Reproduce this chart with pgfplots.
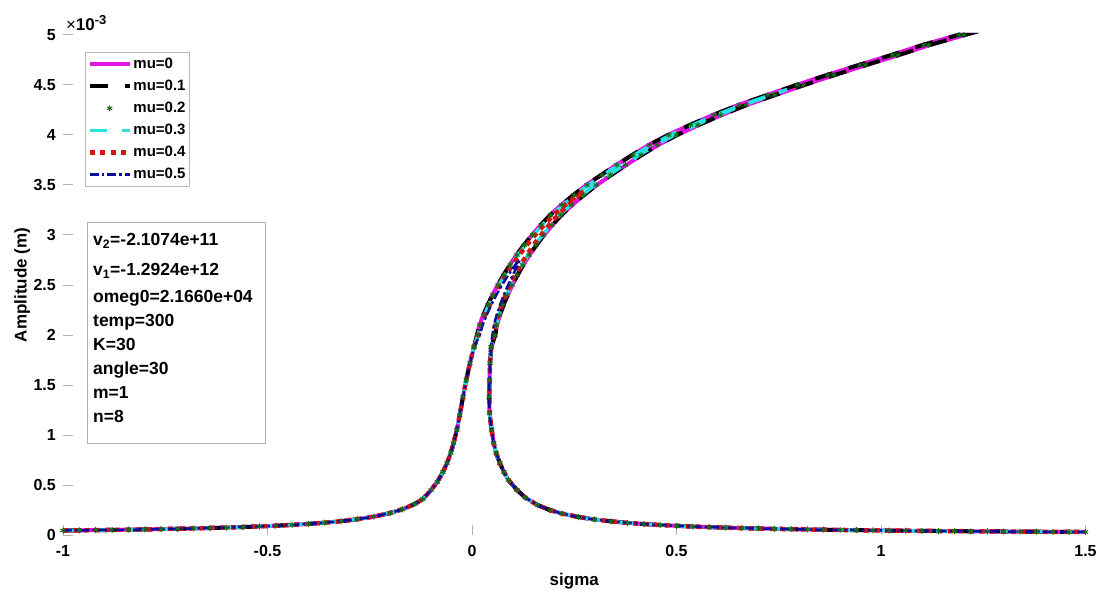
\documentclass[border=0pt]{standalone}
\usepackage{fontspec}
\setmainfont{Liberation Sans}
\setsansfont{Liberation Sans}
\usepackage{pgfplots}
\pgfplotsset{compat=1.18}
\usepackage{pgfplotstable}

\definecolor{cMag}{RGB}{225,20,225}
\definecolor{cGrn}{RGB}{20,110,20}
\definecolor{cCyn}{RGB}{40,225,225}
\definecolor{cRed}{RGB}{215,20,20}
\definecolor{cBlu}{RGB}{10,10,160}

% common lower-left branch
\pgfplotstableread{
x y
-1.00 0.0448
-0.96 0.0466
-0.92 0.0486
-0.88 0.0508
-0.84 0.0533
-0.80 0.0559
-0.76 0.0588
-0.72 0.0621
-0.68 0.0657
-0.64 0.0698
-0.60 0.0744
-0.56 0.0796
-0.52 0.0857
-0.48 0.0928
-0.44 0.1011
-0.40 0.1111
-0.36 0.1233
-0.32 0.1385
-0.28 0.1579
-0.24 0.1837
-0.20 0.2195
-0.17 0.2571
-0.14 0.3103
-0.12 0.3600
-0.100 0.450
-0.085 0.530
-0.071 0.630
-0.061 0.720
-0.052 0.820
-0.045 0.920
-0.037 1.050
-0.030 1.200
-0.022 1.380
-0.014 1.550
-0.005 1.720
0.005 1.880
}\tabL

% common lower-right branch
\pgfplotstableread{
x y
0.047 1.880
0.044 1.720
0.043 1.550
0.042 1.380
0.043 1.220
0.048 1.050
0.053 0.920
0.059 0.820
0.068 0.720
0.078 0.630
0.089 0.550
0.110 0.450
0.130 0.375
0.160 0.300
0.190 0.250
0.220 0.2143
0.26 0.1800
0.30 0.1552
0.34 0.1364
0.38 0.1216
0.42 0.1098
0.46 0.1000
0.50 0.0918
0.54 0.0849
0.58 0.0789
0.62 0.0738
0.66 0.0692
0.70 0.0652
0.74 0.0616
0.78 0.0584
0.82 0.0556
0.86 0.0529
0.90 0.0506
0.94 0.0484
0.98 0.0464
1.02 0.0446
1.06 0.0429
1.10 0.0413
1.14 0.0398
1.18 0.0385
1.22 0.0372
1.26 0.0360
1.30 0.0349
1.34 0.0338
1.38 0.0328
1.42 0.0319
1.46 0.0310
1.50 0.0302
}\tabR

% upper parts, mu = 0
\pgfplotstableread{
x y
0.005 1.88
0.0120 2.0
0.0183 2.1
0.0276 2.2
0.0381 2.3
0.0498 2.4
0.0628 2.5
0.0770 2.6
0.0922 2.7
0.1086 2.8
0.1268 2.9
0.1465 3.0
0.1679 3.1
0.1909 3.2
0.2179 3.3
0.2477 3.4
0.2795 3.5
0.3153 3.6
0.3526 3.7
0.3916 3.8
0.4322 3.9
0.4791 4.0
0.5324 4.1
0.5891 4.2
0.6510 4.3
0.7213 4.4
0.7928 4.5
0.8676 4.6
0.9453 4.7
1.0253 4.8
1.1013 4.9
1.1874 5.0
1.2054 5.0
1.1197 4.9
1.0441 4.8
0.9645 4.7
0.8872 4.6
0.8128 4.5
0.7417 4.4
0.6720 4.3
0.6105 4.2
0.5544 4.1
0.5017 4.0
0.4552 3.9
0.4152 3.8
0.3770 3.7
0.3403 3.6
0.3053 3.5
0.2741 3.4
0.2451 3.3
0.2191 3.2
0.1969 3.1
0.1765 3.0
0.1578 2.9
0.1408 2.8
0.1256 2.7
0.1116 2.6
0.0988 2.5
0.0874 2.4
0.0773 2.3
0.0686 2.2
0.0611 2.1
0.0570 2.0
0.047 1.88
}\tabTa

% mu = 0.1
\pgfplotstableread{
x y
0.005 1.88
0.0122 2.0
0.0186 2.1
0.0279 2.2
0.0384 2.3
0.0501 2.4
0.0631 2.5
0.0773 2.6
0.0925 2.7
0.1090 2.8
0.1272 2.9
0.1469 3.0
0.1683 3.1
0.1913 3.2
0.2183 3.3
0.2481 3.4
0.2799 3.5
0.3157 3.6
0.3531 3.7
0.3921 3.8
0.4327 3.9
0.4796 4.0
0.5329 4.1
0.5896 4.2
0.6515 4.3
0.7219 4.4
0.7934 4.5
0.8682 4.6
0.9459 4.7
1.0259 4.8
1.1019 4.9
1.1880 5.0
1.2048 5.0
1.1191 4.9
1.0435 4.8
0.9639 4.7
0.8866 4.6
0.8122 4.5
0.7411 4.4
0.6715 4.3
0.6100 4.2
0.5539 4.1
0.5012 4.0
0.4547 3.9
0.4147 3.8
0.3765 3.7
0.3399 3.6
0.3049 3.5
0.2737 3.4
0.2447 3.3
0.2187 3.2
0.1965 3.1
0.1761 3.0
0.1574 2.9
0.1404 2.8
0.1253 2.7
0.1113 2.6
0.0985 2.5
0.0871 2.4
0.0770 2.3
0.0683 2.2
0.0608 2.1
0.0568 2.0
0.047 1.88
}\tabTb

% mu = 0.2
\pgfplotstableread{
x y
0.005 1.88
0.0130 2.0
0.0193 2.1
0.0287 2.2
0.0393 2.3
0.0510 2.4
0.0640 2.5
0.0783 2.6
0.0936 2.7
0.1100 2.8
0.1282 2.9
0.1480 3.0
0.1694 3.1
0.1926 3.2
0.2195 3.3
0.2494 3.4
0.2813 3.5
0.3171 3.6
0.3545 3.7
0.3935 3.8
0.4342 3.9
0.4812 4.0
0.5346 4.1
0.5913 4.2
0.6533 4.3
0.7236 4.4
0.7952 4.5
0.8701 4.6
0.9479 4.7
1.0280 4.8
1.1041 4.9
1.1902 5.0
1.2026 5.0
1.1169 4.9
1.0414 4.8
0.9619 4.7
0.8847 4.6
0.8104 4.5
0.7394 4.4
0.6697 4.3
0.6083 4.2
0.5522 4.1
0.4996 4.0
0.4532 3.9
0.4133 3.8
0.3751 3.7
0.3385 3.6
0.3035 3.5
0.2724 3.4
0.2435 3.3
0.2174 3.2
0.1954 3.1
0.1750 3.0
0.1564 2.9
0.1394 2.8
0.1242 2.7
0.1103 2.6
0.0976 2.5
0.0862 2.4
0.0761 2.3
0.0675 2.2
0.0601 2.1
0.0560 2.0
0.047 1.88
}\tabTc

% mu = 0.3
\pgfplotstableread{
x y
0.005 1.88
0.0144 2.0
0.0208 2.1
0.0303 2.2
0.0409 2.3
0.0528 2.4
0.0659 2.5
0.0802 2.6
0.0956 2.7
0.1122 2.8
0.1305 2.9
0.1504 3.0
0.1720 3.1
0.1952 3.2
0.2223 3.3
0.2523 3.4
0.2844 3.5
0.3204 3.6
0.3580 3.7
0.3972 3.8
0.4381 3.9
0.4854 4.0
0.5391 4.1
0.5962 4.2
0.6588 4.3
0.7299 4.4
0.7707 4.455
0.7331 4.4
0.6642 4.3
0.6034 4.2
0.5477 4.1
0.4954 4.0
0.4493 3.9
0.4096 3.8
0.3716 3.7
0.3352 3.6
0.3004 3.5
0.2695 3.4
0.2407 3.3
0.2148 3.2
0.1928 3.1
0.1726 3.0
0.1541 2.9
0.1372 2.8
0.1222 2.7
0.1084 2.6
0.0957 2.5
0.0844 2.4
0.0745 2.3
0.0659 2.2
0.0586 2.1
0.0546 2.0
0.047 1.88
}\tabTd

% mu = 0.4
\pgfplotstableread{
x y
0.005 1.88
0.0162 2.0
0.0227 2.1
0.0324 2.2
0.0432 2.3
0.0552 2.4
0.0684 2.5
0.0830 2.6
0.0986 2.7
0.1154 2.8
0.1340 2.9
0.1542 3.0
0.1761 3.1
0.1998 3.2
0.2276 3.3
0.2589 3.4
0.2735 3.44
0.2629 3.4
0.2354 3.3
0.2102 3.2
0.1887 3.1
0.1688 3.0
0.1506 2.9
0.1340 2.8
0.1192 2.7
0.1056 2.6
0.0932 2.5
0.0820 2.4
0.0722 2.3
0.0638 2.2
0.0567 2.1
0.0528 2.0
0.047 1.88
}\tabTe

% mu = 0.5
\pgfplotstableread{
x y
0.005 1.88
0.0191 2.0
0.0259 2.1
0.0358 2.2
0.0470 2.3
0.0594 2.4
0.0733 2.5
0.0887 2.6
0.1057 2.7
0.1168 2.75
0.1121 2.7
0.0999 2.6
0.0883 2.5
0.0778 2.4
0.0684 2.3
0.0604 2.2
0.0535 2.1
0.0499 2.0
0.047 1.88
}\tabTf

\begin{document}
\begin{tikzpicture}
\useasboundingbox (0,0) rectangle (1103pt,598pt);
\begin{axis}[
  at={(63pt,63pt)}, anchor=south west,
  scale only axis, width=1022.5pt, height=500pt,
  xmin=-1, xmax=1.5, ymin=0, ymax=5,
  clip=false,
  axis x line*=bottom, axis y line*=left,
  axis line style={draw=none},
  xtick={-1,-0.5,0,0.5,1,1.5},
  xticklabels={-1,-0.5,0,0.5,1,1.5},
  ytick={0,0.5,1,1.5,2,2.5,3,3.5,4,4.5,5},
  yticklabels={0,0.5,1,1.5,2,2.5,3,3.5,4,4.5,5},
  tick align=inside,
  major tick length=10pt,
  tick style={draw=gray!60, line width=1pt},
  xticklabel style={font=\fontsize{16}{16}\selectfont\bfseries, inner sep=0pt, anchor=north, yshift=-10pt},
  yticklabel style={font=\fontsize{16}{16}\selectfont\bfseries, inner sep=0pt, anchor=east, xshift=-7pt},
  xlabel={sigma}, ylabel={Amplitude (m)},
  xlabel style={font=\fontsize{17}{17}\selectfont\bfseries, at={(axis description cs:0.5,-0.092)}, anchor=center},
  ylabel style={font=\fontsize{17}{17}\selectfont\bfseries, at={(axis description cs:-0.040,0.5)}, anchor=center},
  legend cell align=left,
  legend style={at={(axis cs:-0.946,4.83)}, anchor=north west, draw=gray!55, line width=0.7pt, fill=white,
    inner xsep=2pt, inner ysep=1pt, row sep=0pt,
    font=\fontsize{15}{15}\selectfont\bfseries,
    nodes={inner xsep=1.5pt, inner ysep=0pt, minimum height=22pt}},
  legend image code/.code={\draw[mark repeat=2,mark phase=2,#1] plot coordinates {(0pt,0pt)(20pt,0pt)(40pt,0pt)};},
]
% mu = 0
\addplot[draw=cMag, line width=4pt, no marks] table {\tabL};
\addlegendentry{mu=0}
\addplot[draw=cMag, line width=4pt, no marks, forget plot] table {\tabTa};
\addplot[draw=cMag, line width=4pt, no marks, forget plot] table {\tabR};
% mu = 0.1
\addplot[draw=black, line width=4pt, no marks, dash pattern=on 18pt off 17pt] table {\tabL};
\addlegendentry{mu=0.1}
\addplot[draw=black, line width=4pt, no marks, dash pattern=on 18pt off 17pt, forget plot] table {\tabTb};
\addplot[draw=black, line width=4pt, no marks, dash pattern=on 18pt off 17pt, forget plot] table {\tabR};
% mu = 0.2
\addplot[cGrn, only marks, mark=asterisk, mark size=3pt, line width=1pt] table {\tabL};
\addlegendentry{mu=0.2}
\addplot[cGrn, only marks, mark=asterisk, mark size=3pt, line width=1pt, forget plot] table {\tabTc};
\addplot[cGrn, only marks, mark=asterisk, mark size=3pt, line width=1pt, forget plot] table {\tabR};
% mu = 0.3
\addplot[draw=cCyn, line width=3.5pt, no marks, dash pattern=on 17pt off 15pt] table {\tabL};
\addlegendentry{mu=0.3}
\addplot[draw=cCyn, line width=3.5pt, no marks, dash pattern=on 17pt off 15pt, forget plot] table {\tabTd};
\addplot[draw=cCyn, line width=3.5pt, no marks, dash pattern=on 17pt off 15pt, forget plot] table {\tabR};
% mu = 0.4
\addplot[draw=cRed, line width=4.5pt, no marks, dash pattern=on 5pt off 5.5pt] table {\tabL};
\addlegendentry{mu=0.4}
\addplot[draw=cRed, line width=4.5pt, no marks, dash pattern=on 5pt off 5.5pt, forget plot] table {\tabTe};
\addplot[draw=cRed, line width=4.5pt, no marks, dash pattern=on 5pt off 5.5pt, forget plot] table {\tabR};
% mu = 0.5
\addplot[draw=cBlu, line width=2.5pt, no marks, dash pattern=on 9pt off 3pt on 2.5pt off 3pt] table {\tabL};
\addlegendentry{mu=0.5}
\addplot[draw=cBlu, line width=2.5pt, no marks, dash pattern=on 9pt off 3pt on 2.5pt off 3pt, forget plot] table {\tabTf};
\addplot[draw=cBlu, line width=2.5pt, no marks, dash pattern=on 9pt off 3pt on 2.5pt off 3pt, forget plot] table {\tabR};

% exponent label
\node[anchor=base west, font=\fontsize{17}{17}\selectfont, inner sep=0pt] at (axis cs:-0.993,5.04) {×\textbf{10}\raisebox{6.5pt}{\fontsize{13}{13}\selectfont\bfseries -3}};

% parameter box
\draw[gray!60, line width=0.7pt, fill=white] (axis cs:-0.9413,3.13) rectangle (axis cs:-0.5061,0.92);
\begin{scope}[every node/.style={anchor=base west, inner sep=0pt, font=\fontsize{17.5}{17.5}\selectfont\bfseries}]
\node at (axis cs:-0.9267,2.89) {v\textsubscript{2}=-2.1074e+11};
\node at (axis cs:-0.9267,2.59) {v\textsubscript{1}=-1.2924e+12};
\node at (axis cs:-0.9267,2.33) {omeg0=2.1660e+04};
\node at (axis cs:-0.9267,2.09) {temp=300};
\node at (axis cs:-0.9267,1.85) {K=30};
\node at (axis cs:-0.9267,1.61) {angle=30};
\node at (axis cs:-0.9267,1.37) {m=1};
\node at (axis cs:-0.9267,1.13) {n=8};
\end{scope}
\end{axis}
\end{tikzpicture}
\end{document}
